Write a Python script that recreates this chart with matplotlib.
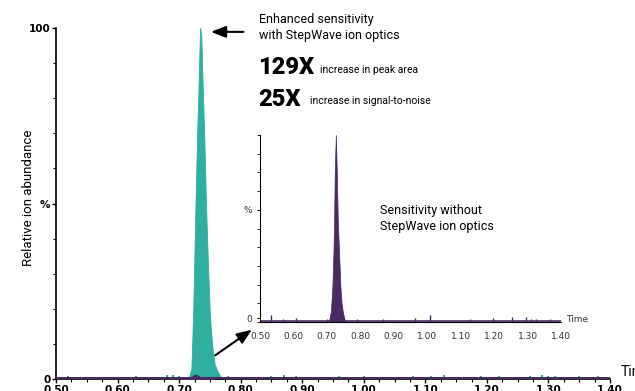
import numpy as np
import matplotlib
matplotlib.use("Agg")
import matplotlib.pyplot as plt
from matplotlib.ticker import MultipleLocator, FixedLocator

# enhanced (StepWave) trace, main peak
teal_t = [0.712, 0.716, 0.720, 0.723, 0.726, 0.729, 0.732, 0.734, 0.736, 0.738,
          0.741, 0.744, 0.747, 0.750, 0.754, 0.758, 0.763, 0.768, 0.772]
teal_y = [0, 0.5, 3, 20, 45, 68, 86, 100, 98, 85,
          68, 48, 32, 18, 9, 4, 2, 0.5, 0]
# baseline noise of the enhanced trace
teal_noise_t = [0.52, 0.54, 0.59, 0.63, 0.66, 0.68, 0.69, 0.70, 0.78, 0.79, 0.85, 0.87,
                0.89, 0.93, 0.96, 1.00, 1.05, 1.08, 1.11, 1.13, 1.16, 1.19, 1.22,
                1.27, 1.29, 1.30, 1.31, 1.33, 1.35, 1.38]
teal_noise_y = [0.9, 0.6, 0.7, 0.8, 0.6, 1.0, 1.1, 0.9, 0.8, 0.7, 0.9, 1.0,
                0.8, 0.7, 0.9, 0.8, 0.7, 0.9, 0.8, 1.0, 0.7, 0.9, 0.8,
                0.9, 1.0, 0.8, 0.9, 0.7, 0.8, 0.9]

# trace without StepWave (inset, normalised to its own max)
purple_t = [0.705, 0.708, 0.712, 0.7165, 0.7195, 0.7216, 0.7236, 0.7267, 0.7296,
            0.7326, 0.7365, 0.7404, 0.744, 0.748, 0.752, 0.756]
purple_y = [0, 2, 6, 19, 37, 54, 81, 100, 81, 54, 37, 19, 10, 5, 2, 0]
purple_noise_t = [0.533, 0.568, 0.607, 0.70, 0.789, 0.869, 0.964, 1.009, 1.129,
                  1.198, 1.253, 1.296, 1.31, 1.325, 1.368]
purple_noise_y = [3.9, 1.8, 2.3, 1.6, 1.5, 1.5, 2.0, 4.0, 1.5,
                  2.0, 2.5, 2.7, 1.5, 1.5, 1.5]
purple_base = 0.8
purple_scale = 0.012   # height of the un-enhanced peak on the main scale

x_ticks = [0.50, 0.60, 0.70, 0.80, 0.90, 1.00, 1.10, 1.20, 1.30, 1.40]

teal = "#2eaf9f"
purple = "#4a2a62"
narrow = dict(family=["Roboto", "DejaVu Sans"])

W, H = 635, 391
fig = plt.figure(figsize=(W / 100, H / 100), dpi=100)


def box(x0, y0, x1, y1):
    # pixel box -> figure fraction
    return [x0 / W, 1 - y1 / H, (x1 - x0) / W, (y1 - y0) / H]


# ---- main chromatogram ----
ax = fig.add_axes(box(56, 28, 610, 379))
ax.fill_between(teal_t, teal_y, color=teal, lw=0.6, ec=teal)
ax.vlines(teal_noise_t, 0, teal_noise_y, color=teal, lw=1.5)
ax.axhline(0.3, color=purple, lw=2.2, zorder=3)
ax.fill_between(purple_t, np.array(purple_y) * purple_scale, color=purple, zorder=4)
ax.set_xlim(0.5, 1.4)
ax.set_ylim(0, 100)
for s in ["top", "right"]:
    ax.spines[s].set_visible(False)
ax.spines["left"].set_linewidth(1.2)
ax.spines["bottom"].set_linewidth(1.2)
ax.xaxis.set_major_locator(FixedLocator(x_ticks))
ax.xaxis.set_minor_locator(MultipleLocator(0.025))
ax.set_xticklabels([f"{v:.2f}" for v in x_ticks], fontsize=7.5, fontweight="bold")
ax.yaxis.set_major_locator(FixedLocator([0, 50, 100]))
ax.yaxis.set_minor_locator(MultipleLocator(10))
ax.set_yticklabels(["0", "%", "100"], fontsize=7.5, fontweight="bold")
ax.tick_params(which="major", length=3, width=1, pad=1)
ax.tick_params(which="minor", length=2, width=0.8)
ax.set_ylabel("Relative ion abundance", fontsize=9.5, **narrow)
ax.yaxis.set_label_coords(-0.038, 0.515)
fig.text(621 / W, 1 - 372 / H, "Time", fontsize=10, va="center", **narrow)

# ---- inset: without StepWave ----
ins = fig.add_axes(box(260, 135, 561, 322))
ins.axhline(purple_base, color=purple, lw=1.2)
ins.vlines(purple_noise_t, 0, purple_noise_y, color=purple, lw=1.0)
ins.fill_between(purple_t, purple_y, color=purple, lw=0.5, ec=purple)
ins.set_xlim(0.5, 1.4)
ins.set_ylim(0, 100)
for s in ["top", "right"]:
    ins.spines[s].set_visible(False)
ins.xaxis.set_major_locator(FixedLocator(x_ticks))
ins.set_xticklabels([f"{v:.2f}" for v in x_ticks], fontsize=6.5, color="#333333")
ins.yaxis.set_major_locator(FixedLocator([2, 60]))
ins.yaxis.set_minor_locator(MultipleLocator(10))
ins.set_yticklabels(["0", "%"], fontsize=6.5, color="#333333")
ins.tick_params(which="major", length=2, width=0.8, pad=4)
ins.tick_params(which="minor", length=2, width=0.6)
ins.tick_params(axis="x", length=0, pad=7)
fig.text(566 / W, 1 - 319 / H, "Time", fontsize=6.5, color="#333333", va="center")

# ---- annotations ----
fig.text(259 / W, 1 - 27 / H, "Enhanced sensitivity\nwith StepWave ion optics",
         fontsize=9, va="center", linespacing=1.3, **narrow)
fig.text(258 / W, 1 - 67 / H, "129X", fontsize=17, fontweight="heavy",
         va="center", **narrow)
fig.text(320 / W, 1 - 70 / H, "increase in peak area", fontsize=7.5, va="center",
         **narrow)
fig.text(258 / W, 1 - 99 / H, "25X", fontsize=17, fontweight="heavy",
         va="center", **narrow)
fig.text(310 / W, 1 - 101 / H, "increase in signal-to-noise", fontsize=7.5,
         va="center", **narrow)
fig.text(380 / W, 1 - 218 / H, "Sensitivity without\nStepWave ion optics",
         fontsize=9, va="center", linespacing=1.3, **narrow)

arrow = dict(arrowstyle="-|>,head_length=0.9,head_width=0.35", color="black", lw=1.5)
ax.annotate("", xy=(0.747, 98.9), xytext=(0.809, 98.9), arrowprops=arrow)
ax.annotate("", xy=(0.822, 14.5), xytext=(0.755, 6.3), arrowprops=arrow)

fig.savefig("out.png", dpi=100)
